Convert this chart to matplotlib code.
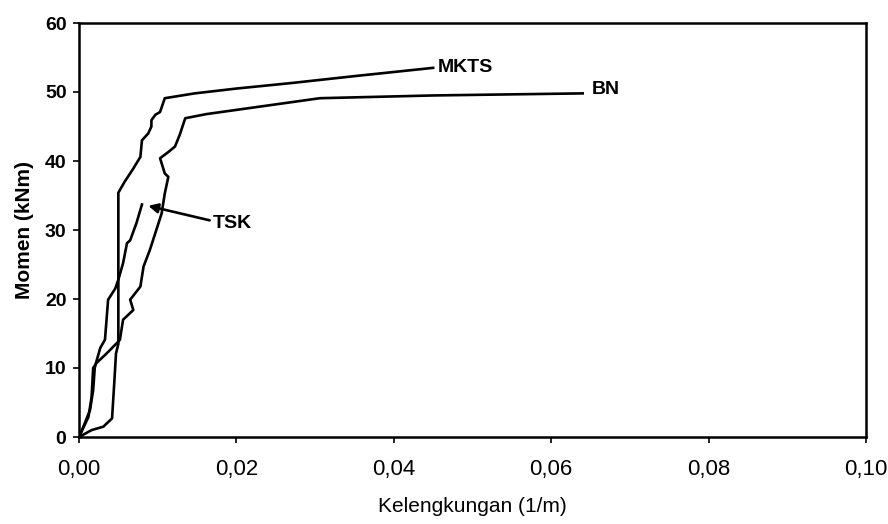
import matplotlib
matplotlib.use("Agg")
import matplotlib.pyplot as plt

plt.rcParams['font.family'] = ['Liberation Sans', 'DejaVu Sans']

# Moment-curvature curves (curvature in 1/m, moment in kNm)
mkts_k = [0.0, 0.0016, 0.0031, 0.0042, 0.0045, 0.0047, 0.0050, 0.0050,
          0.0058, 0.0069, 0.0078, 0.0080, 0.0088, 0.0092, 0.0092, 0.0097,
          0.0103, 0.0109, 0.0147, 0.0200, 0.0270, 0.0350, 0.0450]
mkts_m = [0.0, 1.0, 1.5, 2.7, 8.2, 12.1, 13.5, 35.4,
          37.0, 38.9, 40.6, 43.0, 44.0, 45.0, 45.9, 46.7,
          47.1, 49.1, 49.8, 50.5, 51.3, 52.3, 53.5]

bn_k = [0.0, 0.0012, 0.0016, 0.0018, 0.0022, 0.0035, 0.0048, 0.0052,
        0.0056, 0.0069, 0.0065, 0.0078, 0.0082, 0.0090, 0.0094, 0.0105,
        0.0109, 0.01135, 0.0109, 0.0103, 0.01135, 0.0122, 0.0128, 0.0135,
        0.0162, 0.0306, 0.0450, 0.0640]
bn_m = [0.0, 2.9, 5.8, 10.0, 10.7, 12.1, 13.6, 14.1,
        17.0, 18.4, 19.9, 21.8, 24.7, 27.1, 28.5, 32.4,
        35.3, 37.7, 38.2, 40.4, 41.3, 42.1, 43.8, 46.2,
        46.8, 49.1, 49.5, 49.8]

tsk_k = [0.0, 0.0007, 0.0014, 0.0018, 0.0020, 0.0022, 0.0027, 0.0033,
         0.0037, 0.0046, 0.0050, 0.0056, 0.0061, 0.0065, 0.0073, 0.0080]
tsk_m = [0.0, 1.9, 3.9, 6.8, 10.0, 10.9, 12.9, 14.1,
         19.9, 21.5, 22.8, 25.2, 28.1, 28.5, 31.0, 33.7]

x_ticks = [0.00, 0.02, 0.04, 0.06, 0.08, 0.10]
x_tick_labels = ["0,00", "0,02", "0,04", "0,06", "0,08", "0,10"]
y_ticks = [0, 10, 20, 30, 40, 50, 60]

fig = plt.figure(figsize=(8.88, 5.24), dpi=100)
ax = fig.add_axes([79 / 888, 1 - 437 / 524, (866 - 79) / 888, (437 - 23) / 524])

for k, m in ((mkts_k, mkts_m), (bn_k, bn_m), (tsk_k, tsk_m)):
    ax.plot(k, m, color='black', lw=1.9, solid_joinstyle='round')

ax.set_xlim(0, 0.10)
ax.set_ylim(0, 60)
ax.set_xticks(x_ticks)
ax.set_xticklabels(x_tick_labels, fontsize=16)
ax.set_yticks(y_ticks)
ax.set_yticklabels([str(v) for v in y_ticks], fontsize=14, fontweight='bold')
ax.tick_params(direction='out', length=4, width=1.2, pad=5)
ax.tick_params(axis='x', pad=12)
for s in ax.spines.values():
    s.set_linewidth(1.8)

ax.set_xlabel("Kelengkungan (1/m)", fontsize=15, labelpad=12)
ax.set_ylabel("Momen (kNm)", fontsize=15, fontweight='bold', labelpad=8)

# Curve labels
ax.text(0.0456, 53.6, "MKTS", fontsize=14, fontweight='bold', va='center', ha='left')
ax.text(0.0652, 50.4, "BN", fontsize=14, fontweight='bold', va='center', ha='left')
ax.text(0.0170, 31.0, "TSK", fontsize=14, fontweight='bold', va='center', ha='left')
ax.annotate("", xy=(0.0088, 33.5), xytext=(0.0166, 31.4),
            arrowprops=dict(arrowstyle='-|>', color='black', lw=1.9,
                            mutation_scale=14, shrinkA=0, shrinkB=0))

fig.savefig("out.png", dpi=100)
